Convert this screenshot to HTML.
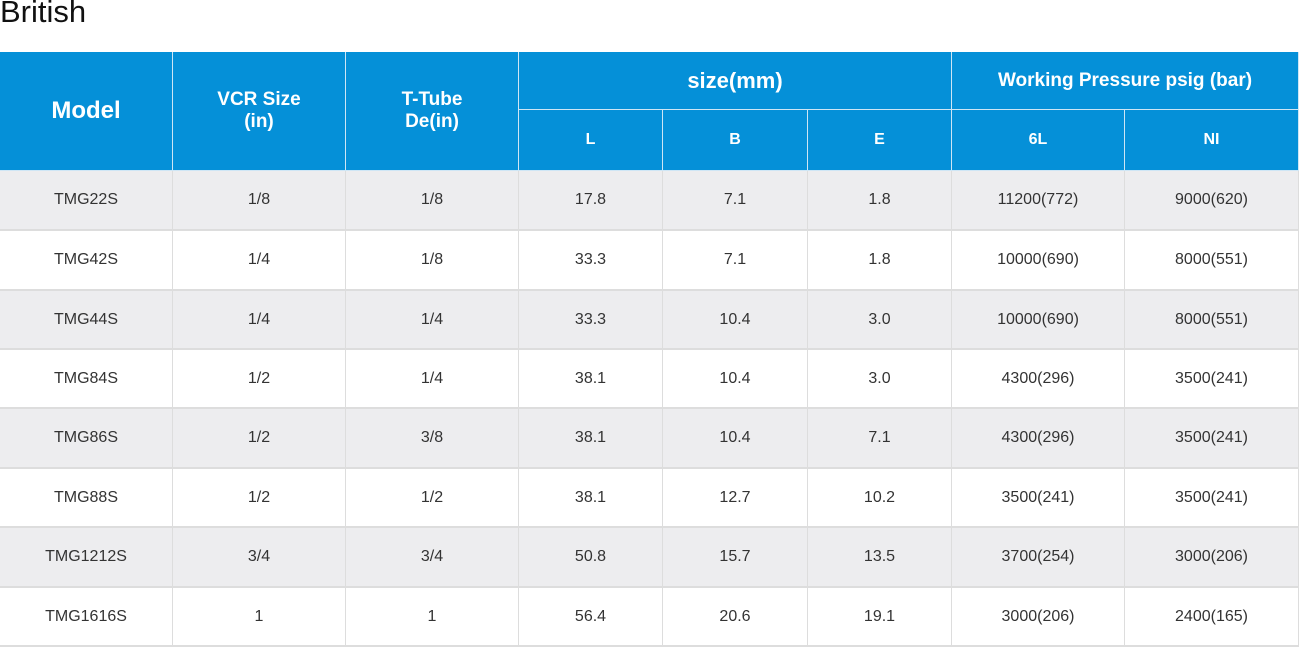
<!DOCTYPE html>
<html><head><meta charset="utf-8"><style>
body{margin:0;width:1299px;height:648px;background:#fff;font-family:"Liberation Sans",sans-serif;position:relative;overflow:hidden}
.t{position:absolute;left:0;top:-6px;font-size:31px;color:#111}
.c{position:absolute;display:flex;align-items:center;justify-content:center;text-align:center;box-sizing:border-box}
.h{background:#0590d8;color:#fff;font-weight:bold;border-right:1px solid #cfe6f5;border-bottom:1px solid #cfe6f5}
.b{font-size:16px;color:#333;border-right:1px solid #ddd;border-bottom:2px solid #ddd}
</style></head><body>
<div class="t">British</div>
<div id="tbl"></div>
<script>
const cols=[0,173,346,519,663,808,952,1125,1299];
const rowsY=[171,231,291,350,409,469,528,588,647];
const models=["TMG22S","TMG42S","TMG44S","TMG84S","TMG86S","TMG88S","TMG1212S","TMG1616S"];
const vcr=["1/8","1/4","1/4","1/2","1/2","1/2","3/4","1"];
const tube=["1/8","1/8","1/4","1/4","3/8","1/2","3/4","1"];
const L=["17.8","33.3","33.3","38.1","38.1","38.1","50.8","56.4"];
const B=["7.1","7.1","10.4","10.4","10.4","12.7","15.7","20.6"];
const E=["1.8","1.8","3.0","3.0","7.1","10.2","13.5","19.1"];
const p6L=["11200(772)","10000(690)","10000(690)","4300(296)","4300(296)","3500(241)","3700(254)","3000(206)"];
const pNI=["9000(620)","8000(551)","8000(551)","3500(241)","3500(241)","3500(241)","3000(206)","2400(165)"];
const tbl=document.getElementById('tbl');
function cell(cls,x0,x1,y0,y1,txt,fs,name){
  const d=document.createElement('div');d.className='c '+cls;
  d.style.left=x0+'px';d.style.width=(x1-x0)+'px';d.style.top=y0+'px';d.style.height=(y1-y0)+'px';
  if(fs)d.style.fontSize=fs+'px';d.innerHTML=txt;
  
  
  tbl.appendChild(d);
}
cell('h',cols[0],cols[1],52,171,'Model',24,'header-model');
cell('h',cols[1],cols[2],52,171,'VCR Size<br>(in)',19,'header-vcr-size');
cell('h',cols[2],cols[3],52,171,'T-Tube<br>De(in)',19,'header-t-tube');
cell('h',cols[3],cols[6],52,110,'size(mm)',22,'header-size');
cell('h',cols[6],cols[8],52,110,'Working Pressure psig (bar)',19,'header-pressure');
["L","B","E","6L","NI"].forEach((s,i)=>cell('h',cols[3+i],cols[4+i],110,171,s,16,'header-'+s.toLowerCase()));
const data=[models,vcr,tube,L,B,E,p6L,pNI];
for(let r=0;r<models.length;r++){
  for(let c=0;c<8;c++){
    cell('b',cols[c],cols[c+1],rowsY[r],rowsY[r+1],data[c][r],0,'cell-r'+(r+1)+'-c'+(c+1));
    tbl.lastChild.style.background=r%2===0?'#ededef':'#fff';
  }
}
</script>
</body></html>
